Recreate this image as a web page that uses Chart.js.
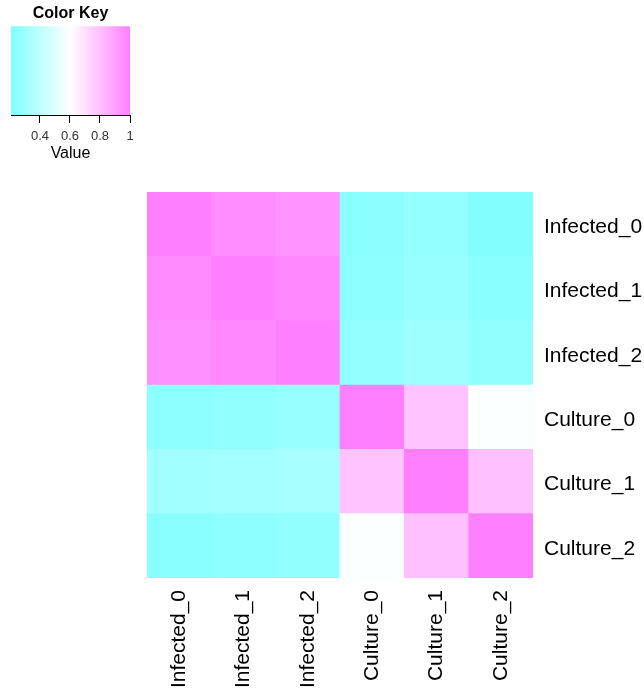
<!DOCTYPE html>
<html>
<head>
<meta charset="utf-8">
<script src="https://cdn.jsdelivr.net/npm/chart.js@4.4.1/dist/chart.umd.min.js"></script>
<style>
    body { margin: 0; background: #fff; }
    #wrap { position: relative; width: 644px; height: 689px; }
    #heat { position: absolute; left: 0; top: 0; }
    #key { position: absolute; left: 0; top: 0; }
</style>
</head>
<body>
<div id="wrap">
    <canvas id="heat" width="644" height="689"></canvas>
    <canvas id="key" width="141" height="170"></canvas>
</div>
<script>
// samples, top row first / left column first
var rowLabels = ['Infected_0', 'Infected_1', 'Infected_2', 'Culture_0', 'Culture_1', 'Culture_2'];
var colLabels = ['Infected_0', 'Infected_1', 'Infected_2', 'Culture_0', 'Culture_1', 'Culture_2'];

// correlation values, one list per row
var infected0 = [1.00, 0.96, 0.94, 0.24, 0.27, 0.21];
var infected1 = [0.965, 1.00, 0.975, 0.25, 0.28, 0.235];
var infected2 = [0.95, 0.975, 1.00, 0.27, 0.30, 0.26];
var culture0 = [0.25, 0.26, 0.28, 1.00, 0.79, 0.59];
var culture1 = [0.31, 0.32, 0.33, 0.79, 1.00, 0.80];
var culture2 = [0.235, 0.25, 0.26, 0.59, 0.80, 1.00];

// colour key
var keyTicks = [0.4, 0.6, 0.8, 1];
var keyMin = 0.207;
var keyMax = 1;

var rows = [infected0, infected1, infected2, culture0, culture1, culture2];
var FONT = '"Liberation Sans", Arial, sans-serif';

// cm.colors: #80FFFF -> white -> #FF80FF
function cmColor(v) {
    var mid = (keyMin + keyMax) / 2;
    var t, c;
    if (v < mid) {
        t = Math.min(1, (mid - v) / (mid - keyMin));
        c = Math.round(255 - 127 * t);
        return 'rgb(' + c + ',255,255)';
    }
    t = Math.min(1, (v - mid) / (keyMax - mid));
    c = Math.round(255 - 127 * t);
    return 'rgb(255,' + c + ',255)';
}

// bottom row first for stacking
var datasets = [];
for (var r = rows.length - 1; r >= 0; r--) {
    datasets.push({
        label: rowLabels[r],
        data: colLabels.map(function() { return 1; }),
        backgroundColor: rows[r].map(cmColor),
        borderWidth: 0,
        barPercentage: 1,
        categoryPercentage: 1
    });
}

new Chart(document.getElementById('heat'), {
    type: 'bar',
    data: { labels: colLabels, datasets: datasets },
    options: {
        responsive: false,
        animation: false,
        layout: { padding: { left: 147, top: 192, right: 0, bottom: 0 } },
        plugins: { legend: { display: false }, tooltip: { enabled: false } },
        scales: {
            x: {
                stacked: true,
                grid: { display: false },
                border: { display: false },
                ticks: {
                    color: '#000',
                    font: { family: FONT, size: 21 },
                    minRotation: 90,
                    maxRotation: 90,
                    padding: 4
                },
                afterFit: function(scale) { scale.height = 111; }
            },
            y: {
                stacked: true,
                position: 'right',
                min: 0,
                max: rowLabels.length,
                grid: { display: false, drawTicks: false },
                border: { display: false },
                afterBuildTicks: function(scale) {
                    scale.ticks = rowLabels.map(function(_, i) { return { value: i + 0.5 }; });
                },
                ticks: {
                    autoSkip: false,
                    color: '#000',
                    padding: 11,
                    labelOffset: 3,
                    font: { family: FONT, size: 21 },
                    callback: function(value) {
                        return rowLabels[rowLabels.length - 1 - Math.floor(value)];
                    }
                },
                afterFit: function(scale) { scale.width = 111; }
            }
        }
    }
});

new Chart(document.getElementById('key'), {
    type: 'bar',
    data: {
        labels: [''],
        datasets: [{
            data: [[keyMin, keyMax]],
            borderWidth: 0,
            barPercentage: 1,
            categoryPercentage: 1,
            backgroundColor: function(ctx) {
                var area = ctx.chart.chartArea;
                if (!area) return '#fff';
                var g = ctx.chart.ctx.createLinearGradient(area.left, 0, area.right, 0);
                g.addColorStop(0, '#80FFFF');
                g.addColorStop(0.5, '#FFFFFF');
                g.addColorStop(1, '#FF80FF');
                return g;
            }
        }]
    },
    options: {
        indexAxis: 'y',
        responsive: false,
        animation: false,
        layout: { padding: { left: 11, right: 11, top: 0, bottom: 0 } },
        plugins: {
            legend: { display: false },
            tooltip: { enabled: false },
            title: {
                display: true,
                text: 'Color Key',
                color: '#000',
                font: { family: FONT, size: 16, weight: 'bold' },
                padding: { top: 4, bottom: 3 }
            }
        },
        scales: {
            y: { display: false },
            x: {
                min: keyMin,
                max: keyMax,
                afterBuildTicks: function(scale) {
                    scale.ticks = keyTicks.map(function(v) { return { value: v }; });
                },
                grid: { drawOnChartArea: false, tickLength: 8, color: '#000' },
                border: { display: true, color: '#000' },
                ticks: {
                    color: '#333',
                    padding: 6,
                    maxRotation: 0,
                    font: { family: FONT, size: 13 },
                    callback: function(value) { return String(value); }
                },
                title: {
                    display: true,
                    text: 'Value',
                    color: '#000',
                    padding: { top: 0, bottom: 7 },
                    font: { family: FONT, size: 16 }
                },
                afterFit: function(scale) { scale.height = 55; }
            }
        }
    }
});
</script>
</body>
</html>
